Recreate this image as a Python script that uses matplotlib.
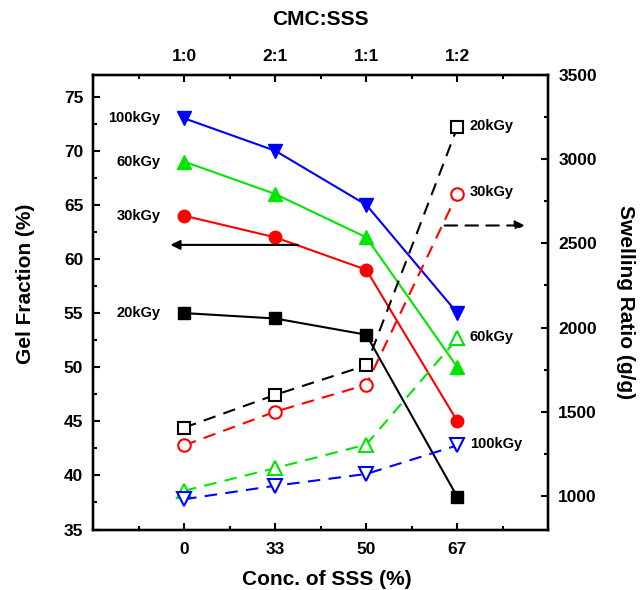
import matplotlib
matplotlib.use("Agg")
import matplotlib.pyplot as plt
from matplotlib.ticker import MultipleLocator

plt.rcParams["font.family"] = ["Liberation Sans", "DejaVu Sans"]
plt.rcParams["font.weight"] = "bold"

conc = ["0", "33", "50", "67"]
ratio = ["1:0", "2:1", "1:1", "1:2"]
doses = ["20kGy", "30kGy", "60kGy", "100kGy"]
colors = ["black", "red", "#00e600", "blue"]
markers = ["s", "o", "^", "v"]
msizes = [8, 9, 9.5, 9.5]

# gel fraction (%), solid lines, left axis
gel_20 = [55, 54.5, 53, 38]
gel_30 = [64, 62, 59, 45]
gel_60 = [69, 66, 62, 50]
gel_100 = [73, 70, 65, 55]

# swelling ratio (g/g), dashed lines, right axis
swell_20 = [1405, 1600, 1775, 3190]
swell_30 = [1300, 1500, 1660, 2795]
swell_60 = [1030, 1165, 1305, 1935]
swell_100 = [980, 1060, 1130, 1300]

gel = [gel_20, gel_30, gel_60, gel_100]
swell = [swell_20, swell_30, swell_60, swell_100]
x = list(range(len(conc)))

fig = plt.figure(figsize=(6.44, 5.90), dpi=100)
ax = fig.add_subplot(111)
fig.subplots_adjust(left=0.1444, right=0.8517, bottom=0.1025, top=0.8729)
ax2 = ax.twinx()
axt = ax.twiny()

for g, c, m, ms, d in zip(gel, colors, markers, msizes, doses):
    ax.plot(x, g, color=c, marker=m, markersize=ms, lw=1.5, zorder=3)
    ax.annotate(d, (x[0], g[0]), xytext=(-17, 0), textcoords="offset points",
                ha="right", va="center", fontsize=10.5, fontweight="bold")

for s, c, m, ms, d in zip(swell, colors, markers, msizes, doses):
    ax2.plot(x, s, color=c, marker=m, markersize=ms, lw=1.5, ls="--",
             dashes=(6, 4), markerfacecolor="white", markeredgewidth=1.5,
             markeredgecolor=c, zorder=3)
    ax2.annotate(d, (x[-1], s[-1]), xytext=(9, 1), textcoords="offset points",
                 ha="left", va="center", fontsize=10.5, fontweight="bold")

# direction arrows: solid -> left axis, dashed -> right axis
ax.annotate("", xy=(-0.15, 61.3), xytext=(1.25, 61.3),
            arrowprops=dict(arrowstyle="-|>", color="black", lw=1.5,
                            mutation_scale=14, shrinkA=0, shrinkB=0))
ax2.annotate("", xy=(3.74, 2606), xytext=(2.86, 2606),
             arrowprops=dict(arrowstyle="-|>", color="black", lw=1.5,
                             linestyle=(0, (6, 4)), mutation_scale=14,
                             shrinkA=0, shrinkB=0))

ax.set_xlim(-1, 4)
ax.set_ylim(35, 77)
ax2.set_ylim(800, 3500)
axt.set_xlim(ax.get_xlim())

ax.set_xticks(x)
ax.set_xticklabels(conc)
ax.xaxis.set_minor_locator(MultipleLocator(0.5))
ax.yaxis.set_major_locator(MultipleLocator(5))
ax.yaxis.set_minor_locator(MultipleLocator(2.5))
ax2.yaxis.set_minor_locator(MultipleLocator(250))
ax2.set_yticks([1000, 1500, 2000, 2500, 3000, 3500])
axt.set_xticks(x)
axt.set_xticklabels(ratio)
axt.xaxis.set_minor_locator(MultipleLocator(0.5))

for a in (ax, ax2, axt):
    a.tick_params(which="major", direction="in", length=5, width=1.5,
                  labelsize=12.5, pad=7)
    a.tick_params(which="minor", direction="in", length=3, width=1.5)
    for sp in a.spines.values():
        sp.set_linewidth(1.6)
ax.tick_params(axis="x", which="major", pad=9)
axt.tick_params(which="major", pad=8)
for lab in ax.get_xticklabels() + ax.get_yticklabels() + ax2.get_yticklabels() + axt.get_xticklabels():
    lab.set_fontweight("bold")

ax.set_xlabel("Conc. of SSS (%)", fontsize=15, fontweight="bold")
ax.set_ylabel("Gel Fraction (%)", fontsize=15, fontweight="bold")
ax2.set_ylabel("Swelling Ratio (g/g)", fontsize=15, fontweight="bold", rotation=270)
axt.set_xlabel("CMC:SSS", fontsize=15, fontweight="bold")
ax.xaxis.set_label_coords(0.514, -0.088)
ax.yaxis.set_label_coords(-0.127, 0.54)
ax2.yaxis.set_label_coords(1.19, 0.5)
axt.xaxis.set_label_coords(0.499, 1.11)

fig.savefig("out.png", dpi=100, facecolor="white")
